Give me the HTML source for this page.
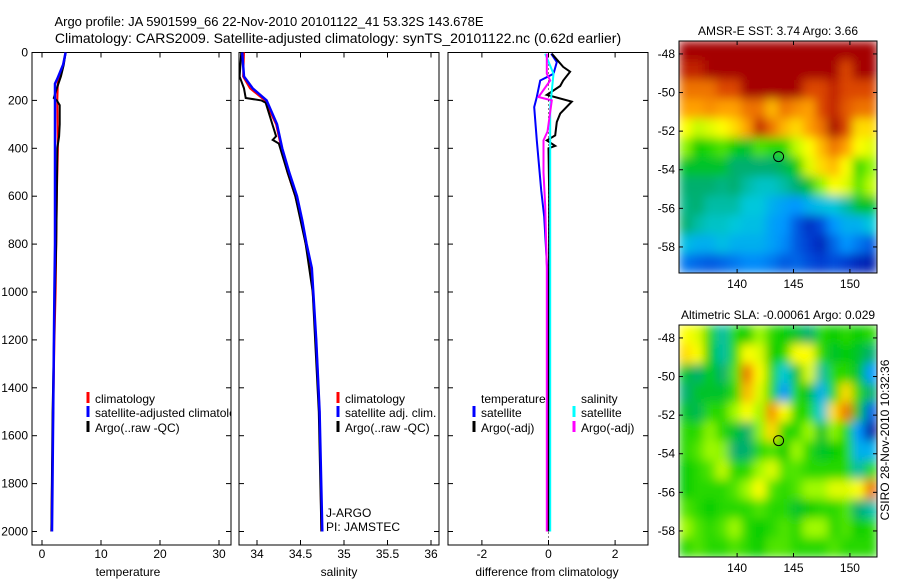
<!DOCTYPE html>
<html><head><meta charset="utf-8"><style>
html,body{margin:0;padding:0;background:#fff;}
svg{display:block;font-family:"Liberation Sans",sans-serif;}
</style></head><body>
<svg id="fig" width="900" height="580" viewBox="0 0 900 580">
<defs>
<filter id="blur" x="0" y="0" width="1" height="1"><feGaussianBlur stdDeviation="5" edgeMode="duplicate"/></filter>
<clipPath id="c1"><rect x="679" y="41" width="198" height="232"/></clipPath>
<clipPath id="c2"><rect x="679" y="325" width="198" height="232"/></clipPath>
</defs>
<text x="269" y="26" font-size="13" text-anchor="middle">Argo profile: JA 5901599_66 22-Nov-2010 20101122_41 53.32S 143.678E</text>
<text x="338" y="43" font-size="14" text-anchor="middle">Climatology: CARS2009. Satellite-adjusted climatology: synTS_20101122.nc (0.62d earlier)</text>
<g id="g"></g>
</svg>
<script>
// ---- data ----
const tDepth = [0,50,100,120,200,400,600,800,1000,1200,1500,1800,2000];
const tClim  = [4.0,3.6,3.0,2.7,2.6,2.7,2.5,2.4,2.3,2.1,1.9,1.7,1.6];
const tSatDepth = [0,50,110,130,200,400,800,1000,1500,2000];
const tSat   = [4.0,3.6,2.6,2.2,2.2,2.2,2.2,2.1,1.9,1.7];
const tArgoDepth = [0,50,100,150,190,200,220,300,350,400,600,800,1000,1500,2000];
const tArgo  = [4.0,3.7,3.2,2.5,2.0,2.5,3.0,3.0,2.9,2.6,2.5,2.4,2.2,1.8,1.6];
const sDepth = [0,100,150,200,300,400,500,600,700,800,900,1200,1500,2000];
const sSat   = [33.83,33.85,33.95,34.11,34.23,34.29,34.37,34.46,34.52,34.57,34.63,34.68,34.72,34.75];
const sClim  = [33.85,33.84,33.92,34.09,34.22,34.28,34.35,34.44,34.51,34.56,34.62,34.68,34.72,34.74];
const sArgoDepth = [0,100,150,190,200,210,350,365,380,500,600,800,1000,1500,2000];
const sArgo  = [33.82,33.80,33.85,33.87,34.05,34.10,34.22,34.18,34.25,34.35,34.44,34.56,34.64,34.71,34.74];
const dTDepth = [5,40,89,117,186,228,367,575,686,1000,2000];
const dTSat   = [0.08,0.25,0.15,-0.25,-0.35,-0.43,-0.35,-0.22,-0.13,0,0];
const dTArgoDepth = [5,60,80,117,140,177,205,255,290,346,367,390,400,600,2000];
const dTArgo  = [0.1,0.44,0.65,0.44,0.35,-0.05,0.7,0.35,0.25,0.2,-0.05,0.2,0,0.02,0];
const dSDepth = [5,89,228,500,2000];
const dSSat   = [-0.1,0.15,0.05,0.05,0.05];
const dSArgoDepth = [5,89,117,186,200,330,367,500,640,900,2000];
const dSArgo  = [-0.05,-0.05,0.05,-0.3,0.1,-0.03,-0.15,-0.15,-0.1,-0.05,-0.05];
const depthTicks = [0,200,400,600,800,1000,1200,1400,1600,1800,2000];
const tTicks = [0,10,20,30];
const sTicks = [34,34.5,35,35.5,36];
const dTicks = [-2,0,2];
const lonTicks = [140,145,150];
const latTicks = [-48,-50,-52,-54,-56,-58];
const sstGrid = [
[1,1,1,1,1,1,1,1,1,1,1,1,1,1,1,1],
[0.95,0.95,1,1,1,1,1,1,1,1,1,1,1,0.9,1,1],
[0.85,0.85,0.85,0.9,0.9,1,1,1,1,1,0.9,0.9,0.95,0.9,0.9,0.9],
[0.8,0.8,0.82,0.8,0.8,0.85,0.85,0.78,0.85,0.82,0.8,0.9,0.95,0.88,0.85,0.85],
[0.72,0.68,0.7,0.72,0.75,0.8,0.95,0.85,0.78,0.75,0.8,0.85,1,0.9,0.75,0.75],
[0.65,0.58,0.6,0.62,0.58,0.55,0.62,0.6,0.6,0.68,0.72,0.78,0.85,0.8,0.72,0.7],
[0.55,0.55,0.55,0.55,0.5,0.5,0.5,0.5,0.52,0.58,0.7,0.75,0.78,0.72,0.6,0.65],
[0.5,0.5,0.5,0.48,0.5,0.45,0.42,0.42,0.45,0.5,0.55,0.65,0.72,0.7,0.62,0.68],
[0.48,0.5,0.45,0.45,0.45,0.4,0.4,0.35,0.32,0.3,0.35,0.38,0.4,0.45,0.55,0.55],
[0.5,0.45,0.42,0.42,0.4,0.38,0.38,0.32,0.3,0.2,0.12,0.18,0.3,0.35,0.35,0.4],
[0.38,0.35,0.35,0.38,0.35,0.35,0.35,0.32,0.28,0.2,0.15,0.1,0.22,0.3,0.25,0.2],
[0.25,0.22,0.2,0.22,0.25,0.28,0.28,0.25,0.2,0.22,0.18,0.15,0.18,0.15,0.1,0.08]];
const slaGrid = [
[0.72,0.7,0.6,0.45,0.6,0.58,0.66,0.6,0.58,0.55,0.5,0.6,0.58,0.6,0.58,0.6],
[0.75,0.72,0.58,0.45,0.6,0.72,0.7,0.58,0.6,0.72,0.72,0.6,0.55,0.58,0.55,0.5],
[0.55,0.5,0.58,0.5,0.62,0.85,0.72,0.6,0.4,0.55,0.7,0.45,0.6,0.6,0.55,0.3],
[0.5,0.55,0.55,0.55,0.6,0.78,0.7,0.6,0.3,0.6,0.55,0.35,0.6,0.75,0.6,0.5],
[0.55,0.52,0.6,0.6,0.66,0.72,0.66,0.82,0.72,0.6,0.6,0.4,0.75,0.85,0.55,0.2],
[0.6,0.6,0.65,0.6,0.55,0.5,0.65,0.75,0.6,0.6,0.66,0.55,0.65,0.6,0.3,0.05],
[0.6,0.62,0.66,0.65,0.5,0.5,0.6,0.62,0.58,0.66,0.6,0.55,0.58,0.6,0.35,0.35],
[0.58,0.6,0.62,0.68,0.6,0.6,0.66,0.7,0.62,0.62,0.6,0.6,0.6,0.6,0.45,0.6],
[0.58,0.6,0.6,0.6,0.62,0.66,0.72,0.62,0.6,0.62,0.66,0.66,0.7,0.7,0.72,0.85],
[0.62,0.6,0.58,0.6,0.6,0.6,0.62,0.6,0.6,0.55,0.58,0.6,0.6,0.62,0.5,0.45],
[0.66,0.62,0.6,0.62,0.66,0.6,0.58,0.6,0.62,0.6,0.66,0.66,0.6,0.62,0.58,0.6],
[0.6,0.62,0.6,0.6,0.62,0.6,0.58,0.62,0.62,0.6,0.6,0.6,0.62,0.6,0.6,0.6]];
const argoLon = [143.678];
const argoLat = [-53.32];

// ---- helpers ----
const NS='http://www.w3.org/2000/svg';
const G=document.getElementById('g');
function mk(tag,attrs,parent){const e=document.createElementNS(NS,tag);for(const k in attrs)e.setAttribute(k,attrs[k]);(parent||G).appendChild(e);return e;}
const Y0=52.5, YS=0.2395;
function yD(d){return Y0+YS*d;}
const panels={
 t:{x0:32,x1:231,lin:v=>42+5.9*v},
 s:{x0:239,x1:439,lin:v=>257+87*(v-34)},
 d:{x0:448,x1:648,lin:v=>548.5+33.3*v}
};
function axesBox(p,name){
 const r=mk('rect',{x:p.x0,y:Y0,width:p.x1-p.x0,height:545-Y0,fill:'#fff',stroke:'#000','stroke-width':1});
 
 
 depthTicks.forEach(d=>{const y=yD(d);
  mk('line',{x1:p.x0,y1:y,x2:p.x0+5,y2:y,stroke:'#000'});
  mk('line',{x1:p.x1,y1:y,x2:p.x1-5,y2:y,stroke:'#000'});});
}
function xTicks(p,ticks,name){
 ticks.forEach(v=>{const x=p.lin(v);
  mk('line',{x1:x,y1:Y0,x2:x,y2:Y0+5,stroke:'#000'});
  mk('line',{x1:x,y1:545,x2:x,y2:540,stroke:'#000'});
  const t=mk('text',{x:x,y:558,'font-size':12,'text-anchor':'middle'});t.textContent=String(v);
  
  });
}
function line(p,xs,ds,color,w,name,dash){
 const pts=xs.map((v,i)=>p.lin(v).toFixed(1)+','+yD(ds[i]).toFixed(1)).join(' ');
 const a={points:pts,fill:'none',stroke:color,'stroke-width':w};
 if(dash)a['stroke-dasharray']=dash;
 const e=mk('polyline',a);
 
 
}
function txt(x,y,s,name,opts){const t=mk('text',Object.assign({x:x,y:y,'font-size':12},opts||{}));t.textContent=s;
 
 return t;}
function legMark(x,y,color){mk('line',{x1:x,y1:y-11,x2:x,y2:y,stroke:color,'stroke-width':3});}

const P=panels;
axesBox(P.t,'temperature-axes');
depthTicks.forEach(d=>{txt(28,yD(d)+4,String(d),'depth-tick-label',{'text-anchor':'end'});});
xTicks(P.t,tTicks,'temperature');
line(P.t,tClim,tDepth,'#f00',2,'temperature-climatology-line');
line(P.t,tArgo,tArgoDepth,'#000',2,'temperature-argo-line');
line(P.t,tSat,tSatDepth,'#00f',2.5,'temperature-satellite-line');
txt(128,576,'temperature','x-axis-title-temperature',{'text-anchor':'middle'});
legMark(88,403,'#f00');txt(95,403,'climatology','legend-climatology');
legMark(88,417,'#00f');
const svgClip=mk('clipPath',{id:'cp1'});mk('rect',{x:32,y:380,width:199,height:60},svgClip);
const lt=txt(95,417,'satellite-adjusted climatology','legend-satellite-adjusted');lt.setAttribute('clip-path','url(#cp1)');
legMark(88,432,'#000');txt(95,432,'Argo(..raw -QC)','legend-argo');

axesBox(P.s,'salinity-axes');
xTicks(P.s,sTicks,'salinity');
line(P.s,sClim,sDepth,'#f00',2,'salinity-climatology-line');
line(P.s,sArgo,sArgoDepth,'#000',2,'salinity-argo-line');
line(P.s,sSat,sDepth,'#00f',2.5,'salinity-satellite-line');
txt(339,576,'salinity','x-axis-title-salinity',{'text-anchor':'middle'});
legMark(338,403,'#f00');txt(345,403,'climatology','legend-climatology-sal');
legMark(338,417,'#00f');txt(345,417,'satellite adj. clim.','legend-satellite-sal');
legMark(338,432,'#000');txt(345,432,'Argo(..raw -QC)','legend-argo-sal');
txt(326,517,'J-ARGO','dac-label');txt(326,531,'PI: JAMSTEC','pi-label');

axesBox(P.d,'difference-axes');
xTicks(P.d,dTicks,'difference');
line(P.d,[0,0],[0,2050],'#000',1,'zero-line','1,3');
line(P.d,dTSat,dTDepth,'#00f',2,'diff-temp-satellite-line');
line(P.d,dTArgo,dTArgoDepth,'#000',2,'diff-temp-argo-line');
line(P.d,dSSat,dSDepth,'#0ff',2,'diff-sal-satellite-line');
line(P.d,dSArgo,dSArgoDepth,'#f0f',2,'diff-sal-argo-line');
txt(547,576,'difference from climatology','x-axis-title-difference',{'text-anchor':'middle'});
txt(481,403,'temperature','legend-temp-header');
legMark(474,417,'#00f');txt(481,417,'satellite','legend-temp-satellite');
legMark(474,432,'#000');txt(481,432,'Argo(-adj)','legend-temp-argo');
txt(581,403,'salinity','legend-sal-header');
legMark(574,417,'#0ff');txt(581,417,'satellite','legend-sal-satellite');
legMark(574,432,'#f0f');txt(581,432,'Argo(-adj)','legend-sal-argo');

const stops=[[0,[0,0,140]],[0.15,[0,60,210]],[0.3,[0,150,255]],[0.4,[0,200,220]],[0.5,[0,175,110]],[0.58,[0,205,0]],[0.66,[160,250,0]],[0.72,[255,255,0]],[0.8,[255,160,0]],[0.9,[220,70,0]],[1,[165,0,0]]];
function cmap(v){for(let i=1;i<stops.length;i++){if(v<=stops[i][0]){const a=stops[i-1],b=stops[i],f=(v-a[0])/(b[0]-a[0]);
 return 'rgb('+a[1].map((c,k)=>Math.round(c+(b[1][k]-c)*f)).join(',')+')';}}return 'rgb(165,0,0)';}
const LON0=134.85,LON1=152.4,LAT0=-47.33,LAT1=-59.35;
function map(top,grid,clip,title,name){
 const lx=v=>679+(v-LON0)*198/(LON1-LON0);
 const ly=v=>top+(v-LAT0)*232/(LAT1-LAT0);
 const g=mk('g',{'clip-path':'url(#'+clip+')'});
 const gi=mk('g',{filter:'url(#blur)'},g);
 
 
 const nr=grid.length,nc=grid[0].length,cw=198/nc,ch=232/nr;
 grid.forEach((row,r)=>row.forEach((v,c)=>{
  const e=mk('rect',{x:679+c*cw,y:top+r*ch,width:cw+0.6,height:ch+0.6,fill:cmap(v)},gi);
  
  }));
 const b=mk('rect',{x:679,y:top,width:198,height:232,fill:'none',stroke:'#000'});
 
 
 lonTicks.forEach(v=>{const x=lx(v);mk('line',{x1:x,y1:top,x2:x,y2:top+4,stroke:'#000'});mk('line',{x1:x,y1:top+232,x2:x,y2:top+228,stroke:'#000'});
  txt(x,top+232+15,String(v),name+'-lon-label',{'text-anchor':'middle'});});
 latTicks.forEach(v=>{const y=ly(v);mk('line',{x1:679,y1:y,x2:683,y2:y,stroke:'#000'});mk('line',{x1:877,y1:y,x2:873,y2:y,stroke:'#000'});
  txt(675,y+4,String(v),name+'-lat-label',{'text-anchor':'end'});});
 argoLon.forEach((lo,i)=>{const c=mk('circle',{cx:lx(lo),cy:ly(argoLat[i]),r:5,fill:'none',stroke:'#000'});
  
  });
 txt(778,top-6,title,name+'-title',{'text-anchor':'middle'});
}
map(41,sstGrid,'c1','AMSR-E SST: 3.74 Argo: 3.66','sst-map');
map(325,slaGrid,'c2','Altimetric SLA: -0.00061 Argo: 0.029','sla-map');
txt(0,0,'CSIRO 28-Nov-2010 10:32:36','timestamp-label',{transform:'translate(889,440) rotate(-90)','text-anchor':'middle'});
</script>
</body></html>
